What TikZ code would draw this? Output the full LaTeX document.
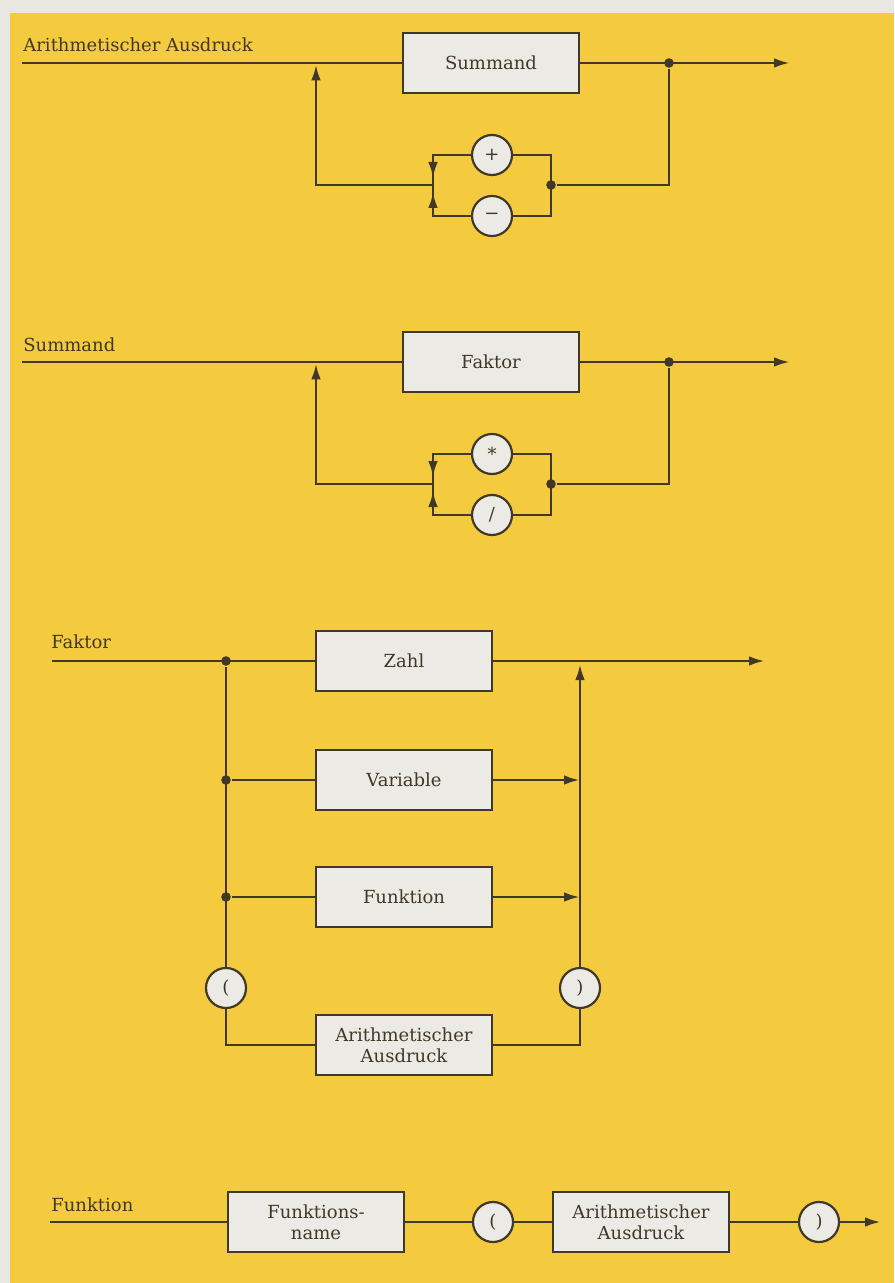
\documentclass[tikz,border=0pt]{standalone}
\usepackage{fontspec}
\setmainfont{DejaVu Serif}
\usetikzlibrary{arrows.meta}
\definecolor{paper}{RGB}{244,202,62}
\definecolor{margin}{RGB}{233,231,226}
\definecolor{ink}{RGB}{64,56,40}
\definecolor{boxfill}{RGB}{236,234,228}

\begin{document}
\begin{tikzpicture}[x=0.5pt,y=-0.5pt,color=ink,line width=1.4pt,
	>={Latex[length=8pt,width=4.8pt]},
	syntaxbox/.style={draw,fill=boxfill,line width=1.1pt,minimum width=88pt,minimum height=30pt,align=center,font=\fontsize{9}{10.5}\selectfont},
	symb/.style={circle,draw,fill=boxfill,line width=1.1pt,minimum size=20pt,inner sep=0pt,font=\fontsize{9}{10.5}\selectfont},
	junction/.style={circle,fill=ink,minimum size=4.8pt,inner sep=0pt},
	lbl/.style={anchor=base west,inner sep=0pt,font=\fontsize{9}{10.5}\selectfont}]
						\fill[margin] (0,0) rectangle (894,1283);
						\fill[paper] (10,13) rectangle (894,1283);
						\useasboundingbox (0,0) rectangle (894,1283);
						% Arithmetischer Ausdruck
						\node[lbl] (ausdrucklbl) at (22,52) {Arithmetischer Ausdruck};
						\coordinate (ausdruckin) at (22,63);
						\node[syntaxbox] (summand) at (491,63) {Summand};
						\node[junction] (summandout) at (669,63) {};
						\coordinate (ausdruckend) at (790,63);
						\coordinate (ausdruckback) at (316,63);
						\node[symb] (plus) at (492,155) {+};
						\node[symb] (minus) at (492,216) {−};
						\coordinate (plusL) at (433,155);
						\coordinate (minusL) at (433,216);
						\coordinate (plusR) at (551,155);
						\coordinate (minusR) at (551,216);
						\coordinate (signin) at (433,185);
						\node[junction] (signout) at (551,185) {};
						\draw (ausdruckin) -- (summand);
						\draw[->] (summand) -- (ausdruckend);
						\draw (summandout) |- (signout);
						\draw (plus) -- (plusR) -- (minusR) -- (minus);
						\draw (plus) -- (plusL) -- (minusL) -- (minus);
						\draw[->,shorten >=3.5pt] (plusL) -- (signin);
						\draw[->,shorten >=3.5pt] (minusL) -- (signin);
						\draw[->,shorten >=0.7pt] (signin) -| (ausdruckback);
						% Summand
						\node[lbl] (summandlbl) at (22,351) {Summand};
						\coordinate (summandin) at (22,362);
						\node[syntaxbox] (faktor) at (491,362) {Faktor};
						\node[junction] (faktorout) at (669,362) {};
						\coordinate (summandend) at (790,362);
						\coordinate (summandback) at (316,362);
						\node[symb] (mal) at (492,454) {*};
						\node[symb] (durch) at (492,515) {/};
						\coordinate (malL) at (433,454);
						\coordinate (durchL) at (433,515);
						\coordinate (malR) at (551,454);
						\coordinate (durchR) at (551,515);
						\coordinate (punktin) at (433,484);
						\node[junction] (punktout) at (551,484) {};
						\draw (summandin) -- (faktor);
						\draw[->] (faktor) -- (summandend);
						\draw (faktorout) |- (punktout);
						\draw (mal) -- (malR) -- (durchR) -- (durch);
						\draw (mal) -- (malL) -- (durchL) -- (durch);
						\draw[->,shorten >=3.5pt] (malL) -- (punktin);
						\draw[->,shorten >=3.5pt] (durchL) -- (punktin);
						\draw[->,shorten >=0.7pt] (punktin) -| (summandback);
						% Faktor
						\node[lbl] (faktorlbl) at (50,648) {Faktor};
						\coordinate (faktorin) at (52,661);
						\node[junction] (fz) at (226,661) {};
						\node[junction] (fv) at (226,780) {};
						\node[junction] (ff) at (226,897) {};
						\node[syntaxbox] (zahl) at (404,661) {Zahl};
						\node[syntaxbox] (variable) at (404,780) {Variable};
						\node[syntaxbox] (funktion) at (404,897) {Funktion};
						\node[syntaxbox] (klammerausdruck) at (404,1045) {Arithmetischer\\Ausdruck};
						\node[symb] (kauf) at (226,988) {(};
						\node[symb] (kzu) at (580,988) {)};
						\coordinate (faktorend) at (765,661);
						\coordinate (zahlR) at (580,661);
						\coordinate (variableR) at (580,780);
						\coordinate (funktionR) at (580,897);
						\draw (faktorin) -- (zahl);
						\draw[->] (zahl) -- (faktorend);
						\draw (fz) -- (kauf);
						\draw (kauf) |- (klammerausdruck);
						\draw (klammerausdruck) -| (kzu);
						\draw[->,shorten >=1.5pt] (kzu) -- (zahlR);
						\draw (fv) -- (variable);
						\draw[->] (variable) -- (variableR);
						\draw (ff) -- (funktion);
						\draw[->] (funktion) -- (funktionR);
						% Funktion
						\node[lbl] (funktionlbl) at (50,1211) {Funktion};
						\coordinate (funktionin) at (50,1222);
						\node[syntaxbox] (fname) at (316,1222) {Funktions-\\name};
						\node[symb] (fauf) at (493,1222) {(};
						\node[syntaxbox] (fausdruck) at (641,1222) {Arithmetischer\\Ausdruck};
						\node[symb] (fzu) at (819,1222) {)};
						\coordinate (funktionend) at (881,1222);
						\draw (funktionin) -- (fname) -- (fauf) -- (fausdruck) -- (fzu);
						\draw[->] (fzu) -- (funktionend);
					\end{tikzpicture}
\end{document}
